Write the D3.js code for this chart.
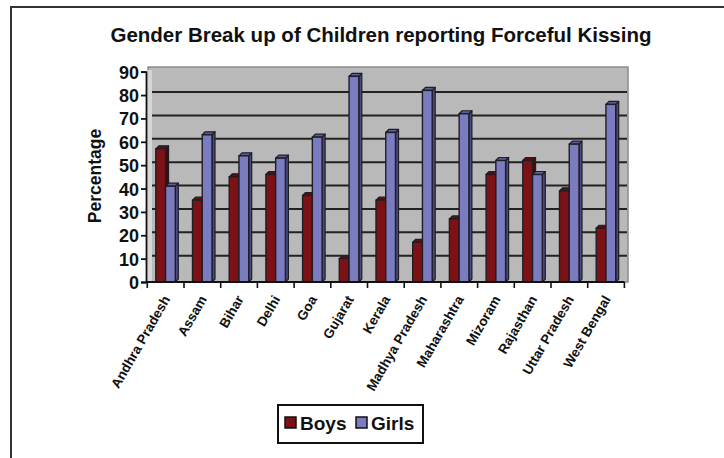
<!DOCTYPE html>
<html><head><meta charset="utf-8">
<script src="https://cdn.jsdelivr.net/npm/d3@7"></script>
<style>html,body{margin:0;padding:0;background:#fff;}svg{display:block;font-family:"Liberation Sans",Arial,sans-serif;}</style>
</head><body>
<svg id="chart" width="724" height="458"></svg>
<script>
const categories = ["Andhra Pradesh","Assam","Bihar","Delhi","Goa","Gujarat","Kerala","Madhya Pradesh","Maharashtra","Mizoram","Rajasthan","Uttar Pradesh","West Bengal"];
const series = ["Boys","Girls"];
const boys  = [57,35,45,46,37,10,35,17,27,46,52,39,23];
const girls = [41,63,54,53,62,88,64,82,72,52,46,59,76];
const yTicks = [0,10,20,30,40,50,60,70,80,90];
const title = "Gender Break up of Children reporting Forceful Kissing";
const yLabel = "Percentage";

const colors = {Boys:{front:"#7d1216",top:"#5e0c0f",side:"#4a080b"}, Girls:{front:"#7b7bbf",top:"#5c5c9a",side:"#4a4a82"}};
const svg = d3.select("#chart");

// frame
svg.append("line").attr("x1",10).attr("x2",724).attr("y1",7).attr("y2",7).attr("stroke","#333").attr("stroke-width",2);
svg.append("line").attr("x1",11).attr("x2",11).attr("y1",7).attr("y2",458).attr("stroke","#333").attr("stroke-width",2);

const x0 = 147.3, x1 = 624.4, yBase = 282, yTop = 71.7;
const x = d3.scaleBand().domain(categories).range([x0,x1]).padding(0);
const xs = d3.scaleBand().domain(series).range([8.5,28]).padding(0);
const y = d3.scaleLinear().domain([0,90]).range([yBase,yTop]);
const depth = 3;

// wall
svg.append("rect").attr("x",148).attr("y",67).attr("width",480).attr("height",yBase-67)
  .attr("fill","#b9b9b9").attr("stroke","#8c8c8c").attr("stroke-width",1.5);
svg.append("rect").attr("x",147).attr("y",70).attr("width",5).attr("height",yBase-70).attr("fill","#d6d6d6");

// gridlines
svg.append("g").selectAll("line").data(yTicks.filter(v=>v>0 && v<90)).join("line")
  .attr("x1",152).attr("x2",627).attr("y1",d=>y(d)-depth).attr("y2",d=>y(d)-depth)
  .attr("stroke","#222").attr("stroke-width",2);

// bars
const data = [];
categories.forEach((c,i)=>{ data.push({c,s:"Boys",v:boys[i]}); data.push({c,s:"Girls",v:girls[i]}); });
const bars = svg.append("g").selectAll("g").data(data).join("g");
bars.each(function(d){
  const g = d3.select(this);
  const bx = x(d.c)+xs(d.s), w = xs.bandwidth(), ty = y(d.v);
  const col = colors[d.s];
  g.append("polygon").attr("points",[[bx+w,ty],[bx+w+depth,ty-depth],[bx+w+depth,yBase-depth],[bx+w,yBase]].join(" "))
    .attr("fill",col.side).attr("stroke","#1e1e24").attr("stroke-width",1.2).attr("stroke-linejoin","round");
  g.append("polygon").attr("points",[[bx,ty],[bx+depth,ty-depth],[bx+w+depth,ty-depth],[bx+w,ty]].join(" "))
    .attr("fill",col.top).attr("stroke","#1e1e24").attr("stroke-width",1.2).attr("stroke-linejoin","round");
  g.append("rect").attr("x",bx).attr("y",ty).attr("width",w).attr("height",yBase-ty)
    .attr("fill",col.front).attr("stroke","#1e1e24").attr("stroke-width",1.4);
});

// y axis
const yAxis = svg.append("g").attr("transform","translate(146,0)")
  .call(d3.axisLeft(y).tickValues(yTicks).tickSize(5).tickPadding(2));
yAxis.select(".domain").attr("stroke","#111").attr("stroke-width",1.8);
yAxis.selectAll(".tick line").attr("stroke","#111").attr("stroke-width",1.8);
yAxis.selectAll(".tick text").attr("font-size",18).attr("font-weight","bold").attr("fill","#111")
  .attr("font-family","'Liberation Sans',Arial,sans-serif").attr("dy","0.36em");

// x axis
const boundaries = categories.map(c=>x(c)).concat([x1]);
svg.append("line").attr("x1",146).attr("x2",x1).attr("y1",yBase).attr("y2",yBase).attr("stroke","#111").attr("stroke-width",1.8);
svg.append("g").selectAll("line").data(boundaries).join("line")
  .attr("x1",d=>d).attr("x2",d=>d).attr("y1",yBase).attr("y2",yBase+6).attr("stroke","#111").attr("stroke-width",1.6);
svg.append("g").selectAll("text").data(categories).join("text")
  .attr("transform",d=>`translate(${x(d)+x.bandwidth()/2+5},${yBase+17}) rotate(-60)`)
  .attr("text-anchor","end").attr("font-size",13.5).attr("font-weight","bold").attr("fill","#111")
  .text(d=>d);

// title
svg.append("text").attr("x",381).attr("y",42).attr("text-anchor","middle").attr("font-size",20.5)
  .attr("font-weight","bold").attr("fill","#111").text(title);

// y label
svg.append("text").attr("transform","translate(101,176) rotate(-90)").attr("text-anchor","middle")
  .attr("font-size",17.5).attr("font-weight","bold").attr("fill","#111").text(yLabel);

// legend
svg.append("rect").attr("x",278).attr("y",405).attr("width",145).attr("height",38).attr("fill","#fff")
  .attr("stroke","#111").attr("stroke-width",2);
const legendX = [285,356];
const lg = svg.append("g").selectAll("g").data(series).join("g")
  .attr("transform",(d,i)=>`translate(${legendX[i]},417)`);
lg.append("rect").attr("width",11).attr("height",11).attr("fill",d=>colors[d].front).attr("stroke","#111").attr("stroke-width",1.5);
lg.append("text").attr("x",15).attr("y",13).attr("font-size",19).attr("font-weight","bold").attr("fill","#111").text(d=>d);
</script>
</body></html>
